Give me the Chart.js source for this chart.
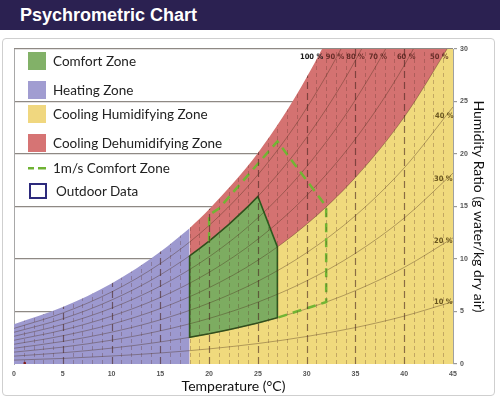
<!DOCTYPE html>
<html lang="en">
<head>
<meta charset="UTF-8">
<title>Psychrometric Chart</title>
<script src="https://cdn.jsdelivr.net/npm/chart.js"></script>
<style>
  body {
    margin: 0;
    padding: 0;
    background: #fff;
    width: 500px;
    height: 399px;
    overflow: hidden;
    position: relative;
    font-family: Lato, "Open Sans", sans-serif;
  }
  .header {
    position: absolute;
    left: 0; top: 0;
    width: 500px; height: 30px;
    background: #2b2151;
    color: #fff;
    font-family: "Liberation Sans", Arial, sans-serif;
    font-weight: bold;
    font-size: 18px;
    line-height: 31px;
    padding-left: 20px;
    box-sizing: border-box;
  }
  .frame {
    position: absolute;
    left: 2px; top: 38px;
    width: 491px; height: 356px;
    border: 1.5px solid #cfcfcf;
    border-radius: 4px;
  }
  .chart-box {
    position: absolute;
    left: 0; top: 39px;
    width: 500px; height: 360px;
  }
  .item {
    position: absolute;
    left: 28px;
    height: 18px;
    display: flex;
    align-items: center;
    font-size: 13.5px;
    color: #222;
    white-space: nowrap;
  }
  .swatch { width: 18px; height: 18px; margin-right: 7px; flex: none; }
  .dash { width: 18px; height: 18px; margin-right: 7px; flex: none;
          background: linear-gradient(90deg, #6fb233 0 6px, transparent 6px 10px, #6fb233 10px 18px) no-repeat 0 8px / 18px 2.5px; }
  .outline { width: 14px; height: 12px; margin: 0 9px 0 1px; border: 2px solid #2d2a7c; flex: none; }
</style>
</head>
<body>
<div class="header">Psychrometric Chart</div>
<div class="frame"></div>
<div class="chart-box"><canvas id="psyChart"></canvas></div>

<div class="item" style="top:52px"><span class="swatch" style="background:#82b168"></span>Comfort Zone</div>
<div class="item" style="top:81px"><span class="swatch" style="background:#a19dd1"></span>Heating Zone</div>
<div class="item" style="top:105px"><span class="swatch" style="background:#f0d77f"></span>Cooling Humidifying Zone</div>
<div class="item" style="top:134px"><span class="swatch" style="background:#d67474"></span>Cooling Dehumidifying Zone</div>
<div class="item" style="top:159px"><span class="dash"></span>1m/s Comfort Zone</div>
<div class="item" style="top:182px"><span class="outline"></span>Outdoor Data</div>

<script>
// dry bulb temperatures (°C) where the curves were read
const temps = [0, 5, 10, 15, 20, 25, 30, 35, 40, 45];

// humidity ratio (g/kg) of each relative humidity curve
const rh10  = [0.37, 0.53, 0.76, 1.05, 1.44, 1.95, 2.62, 3.47, 4.56, 5.94];
const rh20  = [0.75, 1.07, 1.51, 2.10, 2.88, 3.91, 5.26, 6.99, 9.20, 12.01];
const rh30  = [1.13, 1.61, 2.27, 3.16, 4.34, 5.89, 7.92, 10.54, 13.90, 18.18];
const rh40  = [1.50, 2.15, 3.03, 4.21, 5.80, 7.88, 10.60, 14.13, 18.68, 24.48];
const rh50  = [1.88, 2.69, 3.79, 5.28, 7.27, 9.88, 13.31, 17.77, 23.52, 30.91];
const rh60  = [2.26, 3.23, 4.56, 6.34, 8.73, 11.89, 16.04, 21.44, 28.44, 37.46];
const rh70  = [2.64, 3.77, 5.32, 7.42, 10.21, 13.92, 18.80, 25.16, 33.44, 44.30];
const rh80  = [3.02, 4.31, 6.09, 8.49, 11.70, 15.96, 21.58, 28.92, 38.50, 51.30];
const rh90  = [3.39, 4.86, 6.86, 9.57, 13.20, 18.02, 24.38, 32.73, 43.70, 58.50];
const rh100 = [3.79, 5.42, 7.66, 10.69, 14.75, 20.10, 27.30, 36.80, 49.80, 65.90];
const rhNames = ['10 %', '20 %', '30 %', '40 %', '50 %', '60 %', '70 %', '80 %', '90 %', '100 %'];

// heating / cooling split
const splitTemp = 18;
const satAtSplit = 12.94;
const rh50AtSplit = 6.45;

// comfort zone outline (temp, humidity ratio)
const comfortT = [18, 19, 20, 22, 24, 25, 27, 27, 25, 22, 20, 18, 18];
const comfortW = [10.30, 10.98, 11.70, 13.27, 15.01, 15.96, 11.15, 4.41, 3.91, 3.27, 2.88, 2.55, 10.30];

// 1 m/s comfort zone outline
const windT = [20, 20, 21, 27, 32, 32, 27];
const windW = [11.7, 14.2, 14.8, 21.2, 15.0, 5.9, 4.41];

// outdoor data
const outdoorT = [1.1];
const outdoorW = [0.08];

// axis ticks
const tempTicks = [0, 5, 10, 15, 20, 25, 30, 35, 40, 45];
const humTicks = [0, 5, 10, 15, 20, 25, 30];

function pts(xs, ys) {
    return xs.map((x, i) => ({ x: x, y: ys[i] }));
}

const rhSeries = [rh10, rh20, rh30, rh40, rh50, rh60, rh70, rh80, rh90];

const redZone = [{ x: splitTemp, y: satAtSplit }].concat(pts(temps, rh100).filter(p => p.x > splitTemp));
const heatZone = pts(temps, rh100).filter(p => p.x < splitTemp).concat([{ x: splitTemp, y: satAtSplit }]);
const yellowZone = [{ x: splitTemp, y: rh50AtSplit }].concat(pts(temps, rh50).filter(p => p.x > splitTemp));

const datasets = [
    { label: 'Cooling Dehumidifying Zone', data: redZone, fill: 'origin', backgroundColor: '#d47271',
      borderWidth: 0, cubicInterpolationMode: 'monotone', order: 10 },
    { label: 'Heating Zone', data: heatZone, fill: 'origin', backgroundColor: '#9d99cf',
      borderWidth: 0, cubicInterpolationMode: 'monotone', order: 9 },
    { label: 'Cooling Humidifying Zone', data: yellowZone, fill: 'origin', backgroundColor: '#f0da7d',
      borderWidth: 0, cubicInterpolationMode: 'monotone', order: 8 },
    { label: 'Comfort Zone', data: pts(comfortT, comfortW), fill: 'shape', backgroundColor: '#7dac61',
      borderColor: '#2c5a1e', borderWidth: 1.6, tension: 0, order: 7 }
];

rhSeries.forEach((s, i) => {
    datasets.push({ label: rhNames[i], data: pts(temps, s), fill: false, borderColor: 'rgba(70,45,25,0.38)',
        borderWidth: 1, cubicInterpolationMode: 'monotone', order: 5 });
});

const satIndex = datasets.length;
datasets.push({ label: '100 %', data: pts(temps, rh100), fill: false, borderColor: 'rgba(0,0,0,0)',
    borderWidth: 0, cubicInterpolationMode: 'monotone', order: 5 });

datasets.push({ label: '1m/s Comfort Zone', data: pts(windT, windW), fill: false, borderColor: '#72b534',
    borderWidth: 2.5, borderDash: [9, 6], tension: 0, order: 3 });

datasets.push({ label: 'Outdoor Data', data: pts(outdoorT, outdoorW), showLine: false, pointRadius: 1.3,
    pointBackgroundColor: '#8a1a1a', pointBorderWidth: 0, order: 2 });

// dashed temperature lines, only below the saturation curve
const tempLines = {
    id: 'tempLines',
    afterDatasetsDraw(chart) {
        const ctx = chart.ctx;
        const area = chart.chartArea;
        const x = chart.scales.x;
        const sat = chart.getDatasetMeta(satIndex).dataset;
        ctx.save();
        ctx.beginPath();
        ctx.rect(area.left, area.top, area.right - area.left, area.bottom - area.top);
        ctx.clip();
        ctx.beginPath();
        sat.path(ctx);
        ctx.lineTo(area.right + 50, area.bottom);
        ctx.lineTo(area.left, area.bottom);
        ctx.closePath();
        ctx.clip();
        for (let t = x.min + 1; t < x.max; t++) {
            const px = Math.round(x.getPixelForValue(t)) + 0.5;
            const major = t % 5 === 0;
            ctx.beginPath();
            ctx.setLineDash(major ? [7, 4] : [4, 3]);
            ctx.lineWidth = major ? 1.2 : 1;
            ctx.strokeStyle = major ? 'rgba(70,35,30,0.6)' : 'rgba(90,50,40,0.3)';
            ctx.moveTo(px, area.bottom);
            ctx.lineTo(px, area.top);
            ctx.stroke();
        }
        ctx.restore();
    }
};

// relative humidity labels
const rhLabels = {
    id: 'rhLabels',
    afterDraw(chart) {
        const ctx = chart.ctx;
        const x = chart.scales.x;
        const y = chart.scales.y;
        const top = [['100 %', 30.5], ['90 %', 32.9], ['80 %', 35.0], ['70 %', 37.3], ['60 %', 40.2], ['50 %', 43.6]];
        const side = [['40 %', 44.1, 23.6], ['30 %', 44.0, 17.6], ['20 %', 44.0, 11.7], ['10 %', 44.0, 5.9]];
        ctx.save();
        ctx.font = 'bold 7.5px "DejaVu Sans Condensed", "Liberation Sans", sans-serif';
        ctx.textAlign = 'center';
        ctx.textBaseline = 'middle';
        top.forEach((l, i) => {
            ctx.fillStyle = i === 0 ? '#1a1a1a' : 'rgba(80,30,25,0.85)';
            ctx.fillText(l[0], x.getPixelForValue(l[1]), y.getPixelForValue(29.2));
        });
        ctx.fillStyle = 'rgba(90,70,20,0.9)';
        side.forEach(l => {
            ctx.fillText(l[0], x.getPixelForValue(l[1]), y.getPixelForValue(l[2]));
        });
        ctx.restore();
    }
};

const tickFont = { family: '"Liberation Sans", Arial, sans-serif', size: 7, weight: 'bold' };
const titleFont = { family: 'Lato, "Open Sans", sans-serif', size: 14 };

new Chart(document.getElementById('psyChart'), {
    type: 'line',
    data: { datasets: datasets },
    options: {
        responsive: true,
        maintainAspectRatio: false,
        animation: false,
        layout: { padding: { left: 14, top: 10, right: 0, bottom: 0 } },
        elements: { point: { radius: 0 }, line: { capBezierPoints: false } },
        plugins: { legend: { display: false }, tooltip: { enabled: false } },
        scales: {
            x: {
                type: 'linear', min: 0, max: 45,
                afterBuildTicks: s => { s.ticks = tempTicks.map(v => ({ value: v })); },
                afterFit: s => { s.height = 35; },
                grid: { display: false, drawTicks: false },
                border: { display: false },
                ticks: { font: tickFont, color: '#555', padding: 6, maxRotation: 0 },
                title: { display: true, text: 'Temperature (°C)', font: titleFont, color: '#111',
                         padding: { top: 0, bottom: 4 } }
            },
            y: {
                position: 'right', min: 0, max: 30, z: 1,
                afterBuildTicks: s => { s.ticks = humTicks.map(v => ({ value: v })); },
                afterFit: s => { s.width = 47; },
                grid: {
                    color: c => c.tick && c.tick.value === 0 ? 'rgba(0,0,0,0)' : '#8e8984',
                    lineWidth: 1.2, tickLength: 4, tickColor: '#9a9a9a'
                },
                border: { display: true, color: '#a0a0a0', width: 1 },
                ticks: { font: tickFont, color: '#555', padding: 3 },
                title: { display: true, text: 'Humidity Ratio (g water/kg dry air)', font: titleFont, color: '#111',
                         padding: { top: 13, bottom: 0 } }
            },
            yl: {
                position: 'left', min: 0, max: 30,
                afterFit: s => { s.width = 0; },
                grid: { display: false },
                ticks: { display: false },
                border: { display: true, color: '#a8a8a8', width: 1 }
            }
        }
    },
    plugins: [tempLines, rhLabels]
});
</script>
</body>
</html>
